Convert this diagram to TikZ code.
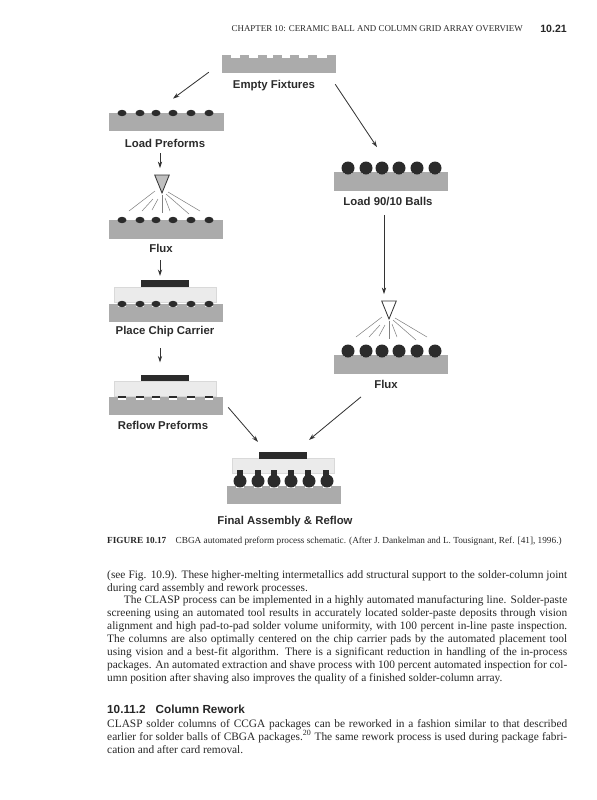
\documentclass[tikz,border=0pt]{standalone}
\usepackage{fontspec}
\setmainfont{Liberation Serif}
\setsansfont{Liberation Sans}
\usetikzlibrary{calc, arrows.meta}
\definecolor{barfill}{gray}{0.67}
\definecolor{inkdark}{gray}{0.17}
\tikzset{
  bar/.style={fill=barfill, inner sep=0, minimum width=3.42cm, minimum height=.55cm},
  carrier/.style={draw=black!15, fill=black!8, inner sep=0, minimum width=3.06cm, minimum height=.44cm},
  chip/.style={fill=inkdark, inner sep=0, minimum width=1.44cm, minimum height=.2cm},
  steplabel/.style={font=\sffamily\bfseries\fontsize{9.7}{12}\selectfont, text=inkdark, inner sep=0},
  flow/.style={-{Stealth[length=5.5pt, width=3.6pt]}, draw=black!80, line width=.7pt},
  spray/.style={draw=black!50, line width=.45pt},
  pagetext/.style={anchor=north west, inner sep=0, text=black!85, text width=13.8cm, align=justify,
    font=\fontsize{9.7}{11}\selectfont},
  pics/preforms/.style={code={
    \foreach \bx in {0,18,34,51,69,87}
      \fill[inkdark] (\bx,0) ellipse[x radius=4.5, y radius=3.2];
  }},
  pics/pads/.style={code={
    \foreach \bx in {0,18,34,51,69,87}
      \fill[white] (\bx-4,0) rectangle (\bx+4,#1);
  }},
  pics/balls/.style={code={
    \foreach \bx in {0,18,34,51,69,87}
      \fill[inkdark] (\bx,0) circle[radius=6.5];
  }},
  pics/nozzle/.style={code={
    \foreach \ax/\ay/\bx/\by in {-7/-2/-33/18, -9/6/-20/18, -4/6/-10/17, 0/2/0/20, 3/5/8/18, 4/1/27/21, 6/-1/38/18}
      \draw[spray] (\ax,\ay) -- (\bx,\by);
    \draw[fill=#1, draw=black!80, line width=.7pt] (-7.3,-18) -- (7.3,-18) -- (0,0) -- cycle;
  }},
}

\begin{document}
\begin{tikzpicture}[x=.03cm, y=-.03cm]
  \useasboundingbox (0,0) rectangle (597,800);

  % running head
  \node[inner sep=0, anchor=east, text=black!85, font=\fontsize{7.6}{9}\selectfont] (head) at (523,29) {CHAPTER 10: CERAMIC BALL AND COLUMN GRID ARRAY OVERVIEW};
  \node[inner sep=0, anchor=east, text=black!85, font=\sffamily\bfseries\fontsize{9}{10}\selectfont] (folio) at (567,29) {10.21};

  % left column
  \node[bar, minimum height=.45cm] (fix) at (279,65.5) {};
  \foreach \tx in {222,240,258,273,290,308,327}
    \fill[barfill] (\tx,55) rectangle (\tx+9,59);
  \node[steplabel] (fixlab) at (274,85.5) {Empty Fixtures};

  \node[bar] (lp) at (166.5,122) {};
  \pic at (122,113) {preforms};
  \node[steplabel] (lplab) at (165,143) {Load Preforms};

  \node[bar] (fl) at (166,229.5) {};
  \pic at (162,193) {nozzle=black!25};
  \pic at (122,220) {preforms};
  \node[steplabel] (fllab) at (161,248) {Flux};

  \node[bar] (pc) at (166,313) {};
  \node[carrier] (pccarr) at (165,294.5) {};
  \node[chip] (pcchip) at (165,283.5) {};
  \pic at (122,304) {pads=3};
  \pic at (122,304) {preforms};
  \node[steplabel] (pclab) at (165,332) {Place Chip Carrier};

  \node[bar] (rf) at (166,406) {};
  \node[carrier] (rfcarr) at (165,388.5) {};
  \node[chip] (rfchip) at (165,378) {};
  \pic at (122,397) {pads=3};
  \foreach \bx in {122,140,156,173,191,209}
    \fill[inkdark] (\bx-4,396.3) rectangle (\bx+4,398);
  \node[steplabel] (rflab) at (163,425) {Reflow Preforms};

  % right column
  \node[bar] (lb) at (391,181.5) {};
  \pic at (348,172) {pads=2};
  \pic at (348,168) {balls};
  \node[steplabel] (lblab) at (388,201) {Load 90/10 Balls};

  \node[bar] (fr) at (391,364.5) {};
  \pic at (389,319) {nozzle=white};
  \pic at (348,355) {pads=2};
  \pic at (348,351) {balls};
  \node[steplabel] (frlab) at (386,384) {Flux};

  % final assembly
  \node[bar] (fa) at (284,495) {};
  \node[carrier] (facarr) at (283,466) {};
  \node[chip] (fachip) at (283,455.5) {};
  \foreach \bx in {240,258,274,291,308,326}
    \fill[inkdark] (\bx-3,470) rectangle (\bx+3,476);
  \pic at (240,486) {pads=2};
  \pic at (240,481) {balls};
  \node[steplabel] (falab) at (285,522) {Final Assembly \& Reflow};

  \draw[flow] ($(fix.south west)+(-13,-1)$) -- ($(lp.north)+(6.5,-14)$);
  \draw[flow] ($(fix.south east)+(-1,11)$) -- ($(lb.north)+(-14,-25)$);
  \draw[flow] ($(lp.south)+(-6.5,22)$) -- ($(fl.north)+(-6,-52)$);
  \draw[flow] ($(fl.south)+(-6,21)$) -- ($(pcchip.north)+(-5,-4)$);
  \draw[flow] ($(pc.south)+(-6,26)$) -- ($(rfchip.north)+(-5,-12)$);
  \draw[flow] ($(lb.south)+(-7,24)$) -- ($(fr.north)+(-7,-61)$);
  \draw[flow] ($(rf.south east)+(5,-8)$) -- ($(fachip.north)+(-25,-10)$);
  \draw[flow] ($(fr.south)+(-30,23)$) -- ($(fachip.north)+(26,-12)$);

  % page text
  \node[inner sep=0, anchor=west, text=black!85, font=\fontsize{7.9}{10}\selectfont] (caption) at (107,541) {\textbf{FIGURE 10.17}\hspace{.28cm}CBGA automated preform process schematic. (After J. Dankelman and L. Tousignant, Ref. [41], 1996.)};
  \node[pagetext] (body) at (107,570) {(see Fig. 10.9). These higher-melting intermetallics add structural support to the solder-column joint\linebreak
    during card assembly and rework processes.\par
    \hspace*{.5cm}The CLASP process can be implemented in a highly automated manufacturing line. Solder-paste\linebreak
    screening using an automated tool results in accurately located solder-paste deposits through vision\linebreak
    alignment and high pad-to-pad solder volume uniformity, with 100 percent in-line paste inspection.\linebreak
    The columns are also optimally centered on the chip carrier pads by the automated placement tool\linebreak
    using vision and a best-fit algorithm. There is a significant reduction in handling of the in-process\linebreak
    packages. An automated extraction and shave process with 100 percent automated inspection for col-\linebreak
    umn position after shaving also improves the quality of a finished solder-column array.};
  \node[inner sep=0, anchor=west, text=black!85, font=\sffamily\bfseries\fontsize{10}{12}\selectfont] (sechead) at (107,709) {10.11.2\hspace{.3cm}Column Rework};
  \node[pagetext] (rework) at (107,719) {CLASP solder columns of CCGA packages can be reworked in a fashion similar to that described\linebreak
    earlier for solder balls of CBGA packages.\textsuperscript{20} The same rework process is used during package fabri-\linebreak
    cation and after card removal.};
\end{tikzpicture}
\end{document}
